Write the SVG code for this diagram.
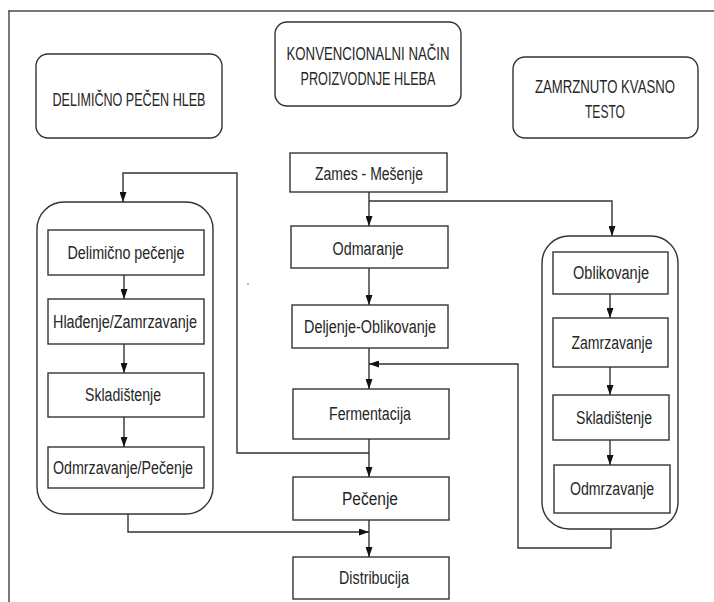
<svg xmlns="http://www.w3.org/2000/svg" width="714" height="602" viewBox="0 0 714 602">
<defs>
<marker id="arr" viewBox="0 0 10 7" refX="10" refY="3.5" markerWidth="10" markerHeight="7" markerUnits="userSpaceOnUse" orient="auto">
<path d="M0,0 L10,3.5 L0,7 z" fill="#111"/>
</marker>
</defs>
<style>
.box{fill:#fff;stroke:#333;stroke-width:1.4}
.hdr{fill:#fff;stroke:#333;stroke-width:1.4}
.cont{fill:none;stroke:#333;stroke-width:1.4}
.t{font-family:"Liberation Sans","Arial",sans-serif;font-size:18px;fill:#262626;text-anchor:middle}
.h{font-family:"Liberation Sans","Arial",sans-serif;font-size:17.5px;fill:#262626;text-anchor:middle}
.c{fill:none;stroke:#333;stroke-width:1.4}
</style>
<rect width="714" height="602" fill="#fff"/>
<g id="frame">
<line x1="9" y1="11" x2="714" y2="11" stroke="#777" stroke-width="2.2"/>
<line x1="9" y1="10" x2="9" y2="602" stroke="#333" stroke-width="1.3"/>
</g>
<g id="h-delimicno">
<rect class="hdr" x="36" y="54" width="186" height="84" rx="12"/>
<text class="h" x="129" y="106" textLength="153" lengthAdjust="spacingAndGlyphs">DELIMIČNO PEČEN HLEB</text>
</g>
<g id="h-konvencionalni">
<rect class="hdr" x="275" y="22" width="186" height="84" rx="12"/>
<text class="h" x="368" y="60" textLength="163" lengthAdjust="spacingAndGlyphs">KONVENCIONALNI NAČIN</text>
<text class="h" x="368" y="85" textLength="135" lengthAdjust="spacingAndGlyphs">PROIZVODNJE HLEBA</text>
</g>
<g id="h-zamrznuto">
<rect class="hdr" x="513" y="57" width="185" height="81" rx="12"/>
<text class="h" x="605" y="93" textLength="140" lengthAdjust="spacingAndGlyphs">ZAMRZNUTO KVASNO</text>
<text class="h" x="605" y="118" textLength="40" lengthAdjust="spacingAndGlyphs">TESTO</text>
</g>
<g id="left-container"><rect class="cont" x="37" y="202" width="176" height="312" rx="27"/></g>
<g id="right-container"><rect class="cont" x="542" y="236" width="136" height="293" rx="27"/></g>
<g id="connectors" class="c">
<line x1="369" y1="192" x2="369" y2="226" marker-end="url(#arr)"/>
<polyline points="369,201 612,201 612,236" marker-end="url(#arr)"/>
<line x1="369" y1="268" x2="369" y2="305" marker-end="url(#arr)"/>
<line x1="369" y1="348" x2="369" y2="389" marker-end="url(#arr)"/>
<line x1="369" y1="439" x2="369" y2="477" marker-end="url(#arr)"/>
<line x1="369" y1="520" x2="369" y2="557" marker-end="url(#arr)"/>
<polyline points="611,529 611,548 518,548 518,364 369,364" marker-end="url(#arr)"/>
<polyline points="369,453 237,453 237,173 123,173 123,202" marker-end="url(#arr)"/>
<polyline points="128,514 128,532 369,532" marker-end="url(#arr)"/>
<line x1="124" y1="275" x2="124" y2="299" marker-end="url(#arr)"/>
<line x1="124" y1="344" x2="124" y2="373" marker-end="url(#arr)"/>
<line x1="124" y1="417" x2="124" y2="447" marker-end="url(#arr)"/>
<line x1="610" y1="294" x2="610" y2="318" marker-end="url(#arr)"/>
<line x1="610" y1="367" x2="610" y2="395" marker-end="url(#arr)"/>
<line x1="610" y1="440" x2="610" y2="465" marker-end="url(#arr)"/>
</g>
<g id="n-zames"><rect class="box" x="290" y="153" width="157" height="39"/><text class="t" x="369" y="180" textLength="108" lengthAdjust="spacingAndGlyphs">Zames - Mešenje</text></g>
<g id="n-odmaranje"><rect class="box" x="291" y="226" width="157" height="42"/><text class="t" x="368" y="255" textLength="71" lengthAdjust="spacingAndGlyphs">Odmaranje</text></g>
<g id="n-deljenje"><rect class="box" x="292" y="305" width="156" height="43"/><text class="t" x="370" y="333" textLength="132" lengthAdjust="spacingAndGlyphs">Deljenje-Oblikovanje</text></g>
<g id="n-fermentacija"><rect class="box" x="293" y="389" width="156" height="50"/><text class="t" x="370" y="420" textLength="82" lengthAdjust="spacingAndGlyphs">Fermentacija</text></g>
<g id="n-pecenje"><rect class="box" x="293" y="477" width="156" height="43"/><text class="t" x="370" y="505" textLength="56" lengthAdjust="spacingAndGlyphs">Pečenje</text></g>
<g id="n-distribucija"><rect class="box" x="293" y="557" width="156" height="42"/><text class="t" x="374" y="584" textLength="70" lengthAdjust="spacingAndGlyphs">Distribucija</text></g>
<g id="n-delimicno-pecenje"><rect class="box" x="48" y="230" width="156" height="45"/><text class="t" x="126" y="259" textLength="117" lengthAdjust="spacingAndGlyphs">Delimično pečenje</text></g>
<g id="n-hladjenje"><rect class="box" x="48" y="299" width="156" height="45"/><text class="t" x="125" y="328" textLength="144" lengthAdjust="spacingAndGlyphs">Hlađenje/Zamrzavanje</text></g>
<g id="n-skladistenje-l"><rect class="box" x="48" y="373" width="156" height="44"/><text class="t" x="123" y="401" textLength="76" lengthAdjust="spacingAndGlyphs">Skladištenje</text></g>
<g id="n-odmrzavanje-pecenje"><rect class="box" x="48" y="447" width="156" height="41"/><text class="t" x="123" y="474" textLength="140" lengthAdjust="spacingAndGlyphs">Odmrzavanje/Pečenje</text></g>
<g id="n-oblikovanje"><rect class="box" x="553" y="252" width="115" height="42"/><text class="t" x="611" y="279" textLength="76" lengthAdjust="spacingAndGlyphs">Oblikovanje</text></g>
<g id="n-zamrzavanje"><rect class="box" x="553" y="318" width="115" height="49"/><text class="t" x="612" y="349" textLength="81" lengthAdjust="spacingAndGlyphs">Zamrzavanje</text></g>
<g id="n-skladistenje-r"><rect class="box" x="553" y="395" width="116" height="45"/><text class="t" x="614" y="424" textLength="76" lengthAdjust="spacingAndGlyphs">Skladištenje</text></g>
<g id="n-odmrzavanje"><rect class="box" x="554" y="465" width="116" height="48"/><text class="t" x="612" y="495" textLength="84" lengthAdjust="spacingAndGlyphs">Odmrzavanje</text></g>
<circle cx="248" cy="284" r="0.9" fill="#999"/>
</svg>
